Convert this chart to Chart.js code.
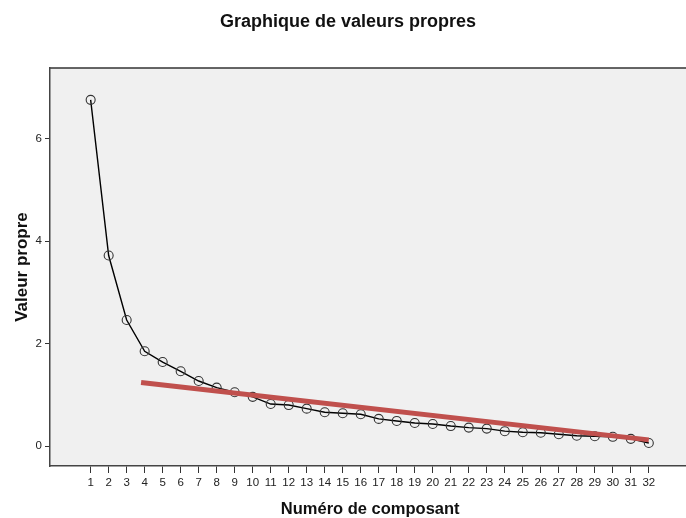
<!DOCTYPE html>
<html>
<head>
<meta charset="utf-8">
<script src="https://cdn.jsdelivr.net/npm/chart.js@4.4.6/dist/chart.umd.min.js"></script>
<style>
  html, body { margin: 0; padding: 0; background: #fff; overflow: hidden; }
  #wrap { width: 696px; height: 518px; }
</style>
</head>
<body>
<div id="wrap"><canvas id="scree" width="696" height="518"></canvas></div>
<script>
/* data */
const components = [1, 2, 3, 4, 5, 6, 7, 8, 9, 10, 11, 12, 13, 14, 15, 16,
  17, 18, 19, 20, 21, 22, 23, 24, 25, 26, 27, 28, 29, 30, 31, 32];
const eigenvalues = [6.76, 3.72, 2.46, 1.85, 1.64, 1.46, 1.27, 1.14, 1.05, 0.96, 0.82, 0.80,
  0.73, 0.66, 0.64, 0.62, 0.53, 0.49, 0.45, 0.43, 0.39, 0.36, 0.34, 0.29,
  0.27, 0.26, 0.23, 0.20, 0.19, 0.18, 0.14, 0.06];
/* red hand-drawn trend line: start and end */
const trendX = [3.8, 32];
const trendY = [1.24, 0.12];
const yTicks = [0, 2, 4, 6];

const font = "'Liberation Sans', Arial, sans-serif";

/* grey plot background plus the top frame line */
const plotFrame = {
  id: 'plotFrame',
  beforeDraw(chart) {
    const { ctx, chartArea: a } = chart;
    ctx.save();
    ctx.fillStyle = '#f0f0f0';
    ctx.fillRect(a.left, a.top, a.right - a.left, a.bottom - a.top);
    ctx.strokeStyle = '#333';
    ctx.lineWidth = 1.5;
    ctx.beginPath();
    ctx.moveTo(a.left, a.top);
    ctx.lineTo(a.right, a.top);
    ctx.stroke();
    ctx.restore();
  }
};

const ctx = document.getElementById('scree');

new Chart(ctx, {
  type: 'line',
  data: {
    datasets: [
      {
        label: 'trend',
        data: trendX.map((x, i) => ({ x, y: trendY[i] })),
        borderColor: '#c0504d',
        borderWidth: 5,
        pointRadius: 0,
        borderCapStyle: 'butt',
        order: 0
      },
      {
        label: 'Valeur propre',
        data: components.map((c, i) => ({ x: c, y: eigenvalues[i] })),
        borderColor: '#000',
        borderWidth: 1.4,
        pointRadius: 4.5,
        pointBorderColor: '#333',
        pointBorderWidth: 1.1,
        pointBackgroundColor: 'rgba(0,0,0,0)',
        tension: 0,
        order: 1
      }
    ]
  },
  options: {
    responsive: false,
    animation: false,
    layout: { padding: 0 },
    plugins: {
      legend: { display: false },
      tooltip: { enabled: false },
      title: {
        display: true,
        text: 'Graphique de valeurs propres',
        color: '#111',
        font: { family: font, size: 18, weight: 'bold', lineHeight: 1.2 },
        padding: { top: 11.5, bottom: 35 }
      }
    },
    scales: {
      x: {
        type: 'linear',
        min: -1.258,
        max: 34.31,
        afterBuildTicks: s => { s.ticks = components.map(v => ({ value: v })); },
        afterFit: s => { s.height = 52; },
        grid: { drawOnChartArea: false, tickLength: 7, color: '#333', tickColor: '#333' },
        border: { color: '#444', width: 1.5 },
        ticks: { color: '#222', font: { family: font, size: 11.5 }, padding: 3, maxRotation: 0, autoSkip: false },
        title: {
          display: true,
          text: 'Numéro de composant',
          color: '#111',
          font: { family: font, size: 16.5, weight: 'bold', lineHeight: 1 },
          padding: { top: 0, bottom: 0 }
        }
      },
      y: {
        min: -0.39,
        max: 7.38,
        afterBuildTicks: s => { s.ticks = yTicks.map(v => ({ value: v })); },
        afterFit: s => { s.width = 50; },
        grid: { drawOnChartArea: false, tickLength: 5, color: '#333', tickColor: '#333' },
        border: { color: '#444', width: 1.5 },
        ticks: { color: '#222', font: { family: font, size: 11.5 }, padding: 3 },
        title: {
          display: true,
          text: 'Valeur propre',
          color: '#111',
          font: { family: font, size: 17, weight: 'bold', lineHeight: 1.2 },
          padding: { top: 12, bottom: 0 }
        }
      }
    }
  },
  plugins: [plotFrame]
});
</script>
</body>
</html>
